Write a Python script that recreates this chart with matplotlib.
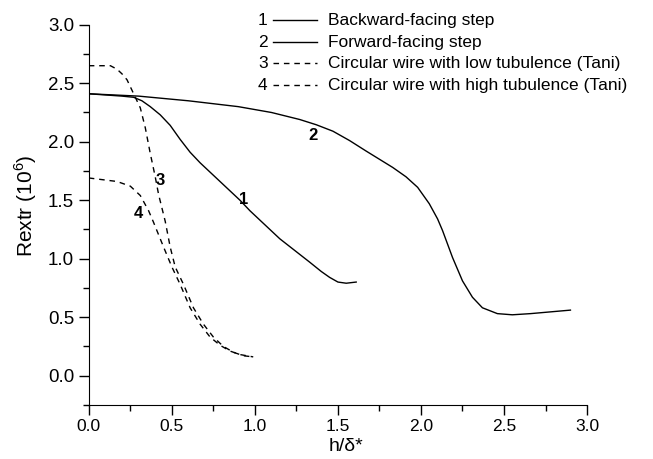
import matplotlib
matplotlib.use('Agg')
import matplotlib.pyplot as plt
from matplotlib.ticker import MultipleLocator

plt.rcParams['font.family'] = ['Liberation Sans', 'DejaVu Sans']
plt.rcParams['mathtext.fontset'] = 'custom'
plt.rcParams['mathtext.rm'] = 'Liberation Sans'

# curve 1: backward-facing step
x1 = [0, 0.1, 0.2, 0.27, 0.32, 0.37, 0.43, 0.49, 0.55, 0.61, 0.67, 0.73, 0.79,
      0.85, 0.91, 0.97, 1.06, 1.15, 1.24, 1.33, 1.40, 1.45, 1.50, 1.55, 1.61]
y1 = [2.41, 2.40, 2.39, 2.38, 2.35, 2.30, 2.23, 2.14, 2.02, 1.91, 1.82, 1.74, 1.66,
      1.58, 1.50, 1.41, 1.29, 1.17, 1.07, 0.97, 0.89, 0.84, 0.80, 0.79, 0.80]

# curve 2: forward-facing step
x2 = [0, 0.3, 0.6, 0.9, 1.1, 1.27, 1.37, 1.47, 1.57, 1.67, 1.75, 1.83, 1.91, 1.98,
      2.05, 2.10, 2.13, 2.19, 2.25, 2.31, 2.37, 2.46, 2.55, 2.66, 2.78, 2.90]
y2 = [2.41, 2.39, 2.35, 2.30, 2.25, 2.19, 2.145, 2.09, 2.01, 1.92, 1.85, 1.78, 1.70,
      1.61, 1.47, 1.34, 1.24, 1.01, 0.81, 0.67, 0.58, 0.53, 0.52, 0.53, 0.545, 0.56]

# curve 3: circular wire, low turbulence
x3 = [0, 0.13, 0.17, 0.20, 0.23, 0.27, 0.31, 0.34, 0.37, 0.40, 0.42, 0.46, 0.49,
      0.52, 0.57, 0.63, 0.69, 0.75, 0.81, 0.87, 0.93, 0.99]
y3 = [2.65, 2.65, 2.62, 2.58, 2.53, 2.41, 2.29, 2.12, 1.90, 1.70, 1.55, 1.32, 1.10,
      0.93, 0.78, 0.58, 0.44, 0.33, 0.25, 0.20, 0.17, 0.16]

# curve 4: circular wire, high turbulence
x4 = [0, 0.17, 0.25, 0.31, 0.36, 0.39, 0.45, 0.50, 0.55, 0.61, 0.67, 0.73, 0.79,
      0.85, 0.91, 0.99]
y4 = [1.69, 1.66, 1.62, 1.54, 1.41, 1.31, 1.10, 0.93, 0.78, 0.58, 0.44, 0.33, 0.26,
      0.21, 0.18, 0.16]

labels = ['Backward-facing step', 'Forward-facing step',
          'Circular wire with low tubulence (Tani)',
          'Circular wire with high tubulence (Tani)']
numbers = ['1', '2', '3', '4']
label_pos = [(0.93, 1.51), (1.35, 2.05), (0.43, 1.67), (0.30, 1.39)]

solid = '-'
dashed = (0, (4, 3.5))
styles = [solid, solid, dashed, dashed]

fig = plt.figure(figsize=(6.53, 4.59), dpi=100)
ax = fig.add_axes([0.136, 0.118, 0.763, 0.828])

for xs, ys, ls in zip([x1, x2, x3, x4], [y1, y2, y3, y4], styles):
    ax.plot(xs, ys, color='black', lw=1.0, linestyle=ls)

for num, (px, py) in zip(numbers, label_pos):
    ax.text(px, py, num, fontsize=12, fontweight='bold', ha='center', va='center')

# legend: number, sample line, text
rows = [1.012, 0.954, 0.899, 0.841]
for num, lab, ls, ry in zip(numbers, labels, styles, rows):
    ax.text(0.349, ry, num, transform=ax.transAxes, fontsize=12.5,
            ha='center', va='center', clip_on=False)
    ax.plot([0.369, 0.458], [ry, ry], transform=ax.transAxes, color='black',
            lw=1.0, linestyle=ls, clip_on=False)
    ax.text(0.480, ry, lab, transform=ax.transAxes, fontsize=12.5,
            ha='left', va='center', clip_on=False)

ax.set_xlim(0, 3.0)
ax.set_ylim(-0.25, 3.0)
ax.xaxis.set_major_locator(MultipleLocator(0.5))
ax.xaxis.set_minor_locator(MultipleLocator(0.25))
ax.yaxis.set_major_locator(MultipleLocator(0.5))
ax.yaxis.set_minor_locator(MultipleLocator(0.25))
ax.set_yticks([0, 0.5, 1.0, 1.5, 2.0, 2.5, 3.0])

ax.spines['top'].set_visible(False)
ax.spines['right'].set_visible(False)
ax.tick_params(which='major', direction='out', length=7, width=1)
ax.tick_params(which='minor', direction='out', length=4, width=1)
ax.tick_params(axis='x', labelsize=12.5)
ax.tick_params(axis='y', labelsize=13.5)

ax.set_xlabel('h/δ*', fontsize=14)
ax.set_ylabel(r'Rextr (10$^{6}$)', fontsize=15)
ax.xaxis.set_label_coords(0.517, -0.088)
ax.yaxis.set_label_coords(-0.100, 0.523)

fig.savefig('out.png', dpi=100)
